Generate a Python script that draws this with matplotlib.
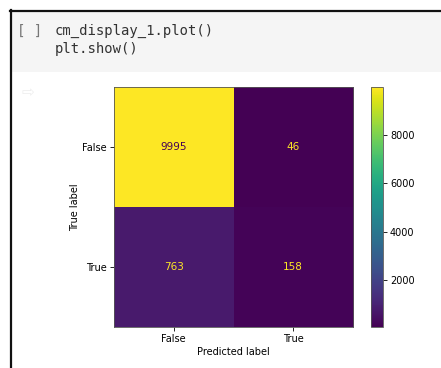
import numpy as np
import matplotlib
matplotlib.use("Agg")
import matplotlib.pyplot as plt
from matplotlib.lines import Line2D
from matplotlib.patches import Rectangle

# ---------------- data ----------------
class_labels = ["False", "True"]
row_false = [9995, 46]
row_true = [763, 158]
cbar_ticks = [2000, 4000, 6000, 8000]
code_lines = ["cm_display_1.plot()", "plt.show()"]

cm = np.array([row_false, row_true])

W, H = 441, 368
fig = plt.figure(figsize=(W / 100, H / 100), dpi=100)

# ---------------- notebook cell frame ----------------
fig.add_artist(Rectangle((12 / W, 1 - 72 / H), 1, 60 / H, transform=fig.transFigure,
                         facecolor="#f5f5f5", edgecolor="none"))
fig.add_artist(Line2D([10.5 / W, 10.5 / W], [0, 1 - 10 / H], transform=fig.transFigure,
                      color="#111111", lw=1.6))
fig.add_artist(Line2D([10 / W, 1], [1 - 11 / H, 1 - 11 / H], transform=fig.transFigure,
                      color="#111111", lw=1.6))
fig.text(17 / W, 1 - 31 / H, "[ ]", family="DejaVu Sans Mono", fontsize=10,
         color="#777777", va="center")
for i, line in enumerate(code_lines):
    fig.text(55 / W, 1 - (31 + i * 18) / H, line, family="DejaVu Sans Mono",
             fontsize=10, color="#333333", va="center")
fig.text(21 / W, 1 - 93 / H, "\u21e8", family=["DejaVu Sans"], fontsize=11,
         color="#eeeeee", va="center")

# ---------------- confusion matrix ----------------
ax = fig.add_axes([114 / W, 1 - 327 / H, 239 / W, 240 / H])
im = ax.imshow(cm, cmap="viridis", aspect="auto")
thresh = (cm.max() + cm.min()) / 2
cmap = plt.get_cmap("viridis")
for i in range(cm.shape[0]):
    for j in range(cm.shape[1]):
        c = cmap(0.0) if cm[i, j] > thresh else cmap(1.0)
        ax.text(j, i, str(cm[i, j]), ha="center", va="center", color=c, fontsize=7.5)

ax.set_xticks(range(len(class_labels)))
ax.set_xticklabels(class_labels)
ax.set_yticks(range(len(class_labels)))
ax.set_yticklabels(class_labels)
ax.set_xlabel("Predicted label", fontsize=7, labelpad=2)
ax.set_ylabel("True label", fontsize=7, labelpad=2)
ax.tick_params(labelsize=7, length=3, width=0.6, pad=2)
for s in ax.spines.values():
    s.set_color("#555555")
    s.set_linewidth(0.6)

cax = fig.add_axes([371 / W, 1 - 327 / H, 12 / W, 240 / H])
cb = fig.colorbar(im, cax=cax)
cb.set_ticks(cbar_ticks)
cb.ax.tick_params(labelsize=7, length=3, width=0.6, pad=2)
cb.outline.set_edgecolor("#555555")
cb.outline.set_linewidth(0.6)

fig.savefig("out.png", dpi=100)
